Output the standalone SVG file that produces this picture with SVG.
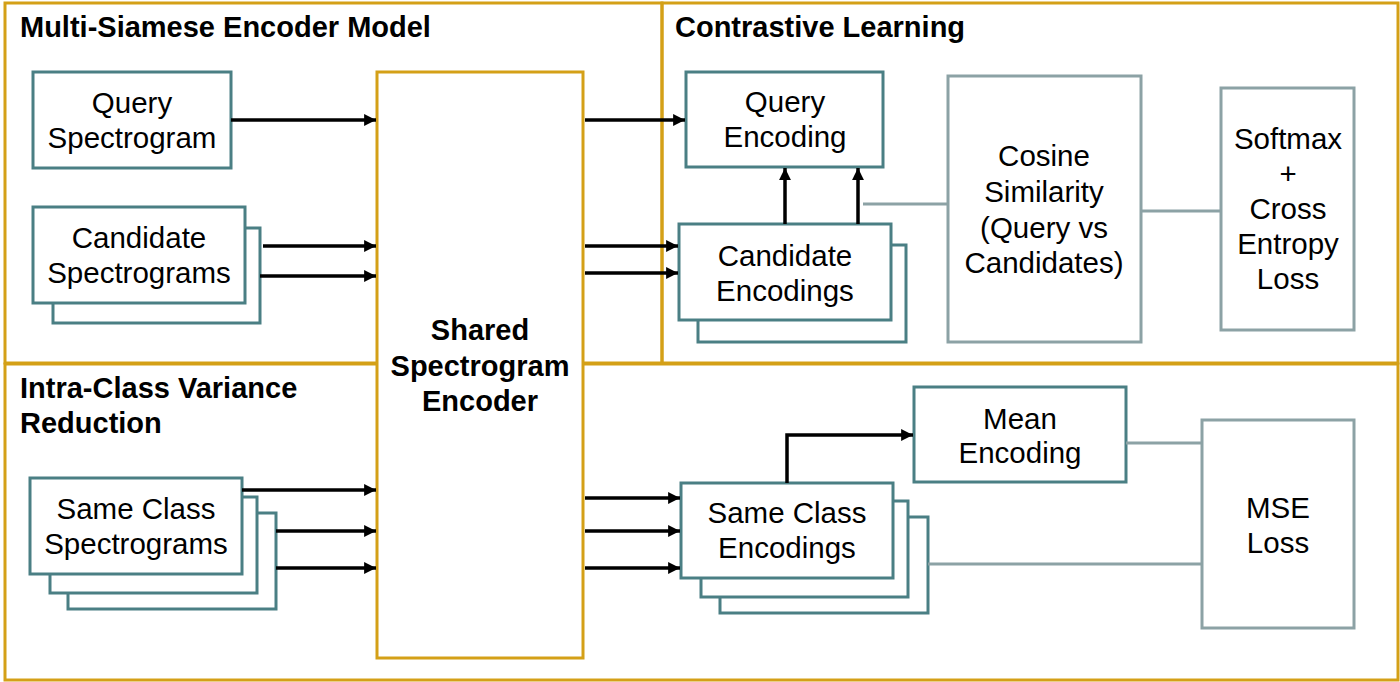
<svg xmlns="http://www.w3.org/2000/svg" width="1400" height="682" viewBox="0 0 1400 682">
<defs>
<marker id="arr" viewBox="0 0 10 10" refX="10" refY="5" markerWidth="3.4" markerHeight="3.4" markerUnits="strokeWidth" orient="auto">
<path d="M0,0 L10,5 L0,10 Z" fill="#000"/>
</marker>
<style>
.frame{fill:none;stroke:#D4A017;stroke-width:3}
.enc{fill:#fff;stroke:#D4A017;stroke-width:3}
.teal{fill:#fff;stroke:#4A7F84;stroke-width:3}
.grey{fill:#fff;stroke:#8CA2A5;stroke-width:3}
.t{font-family:"Liberation Sans",Arial,sans-serif;font-size:29.5px;fill:#000;text-anchor:middle}
.title{font-family:"Liberation Sans",Arial,sans-serif;font-size:29px;font-weight:bold;fill:#000}
.b{font-weight:bold;font-size:29px}
.arrow{fill:none;stroke:#000;stroke-width:3.5;marker-end:url(#arr)}
.gl{fill:none;stroke:#8CA2A5;stroke-width:3}
</style>
</defs>
<rect width="1400" height="682" fill="#fff"/>

<g id="frames">
<rect class="frame" x="5" y="3" width="657" height="360"/>
<rect class="frame" x="662" y="3" width="736" height="360"/>
<rect class="frame" x="5" y="364" width="1393" height="316"/>
<text class="title" x="20" y="37">Multi-Siamese Encoder Model</text>
<text class="title" x="675" y="37">Contrastive Learning</text>
<text class="title" x="20" y="398">Intra-Class Variance</text>
<text class="title" x="20" y="433">Reduction</text>
</g>

<g id="encoder">
<rect class="enc" x="377" y="72" width="206" height="586"/>
<text class="t b" x="480" y="340">Shared</text>
<text class="t b" x="480" y="376">Spectrogram</text>
<text class="t b" x="480" y="411">Encoder</text>
</g>

<g id="query-spectrogram">
<rect class="teal" x="33" y="72" width="198" height="96"/>
<text class="t" x="132" y="113">Query</text>
<text class="t" x="132" y="148">Spectrogram</text>
</g>

<g id="candidate-spectrograms">
<rect class="teal" x="53" y="228" width="207" height="95"/>
<rect class="teal" x="33" y="207" width="212" height="96"/>
<text class="t" x="139" y="248">Candidate</text>
<text class="t" x="139" y="283">Spectrograms</text>
</g>

<g id="same-class-spectrograms">
<rect class="teal" x="68" y="513" width="208" height="96"/>
<rect class="teal" x="50" y="497" width="207" height="96"/>
<rect class="teal" x="30" y="478" width="212" height="96"/>
<text class="t" x="136" y="519">Same Class</text>
<text class="t" x="136" y="554">Spectrograms</text>
</g>

<g id="query-encoding">
<rect class="teal" x="686" y="72" width="197" height="95"/>
<text class="t" x="785" y="112">Query</text>
<text class="t" x="785" y="147">Encoding</text>
</g>

<g id="candidate-encodings">
<rect class="teal" x="698" y="245" width="208" height="97"/>
<rect class="teal" x="679" y="224" width="212" height="96"/>
<text class="t" x="785" y="266">Candidate</text>
<text class="t" x="785" y="301">Encodings</text>
</g>

<g id="cosine-similarity">
<rect class="grey" x="948" y="76" width="193" height="266"/>
<text class="t" x="1044" y="166">Cosine</text>
<text class="t" x="1044" y="202">Similarity</text>
<text class="t" x="1044" y="238">(Query vs</text>
<text class="t" x="1044" y="273">Candidates)</text>
</g>

<g id="softmax-loss">
<rect class="grey" x="1221" y="88" width="133" height="242"/>
<text class="t" x="1288" y="149">Softmax</text>
<text class="t" x="1288" y="184">+</text>
<text class="t" x="1288" y="219">Cross</text>
<text class="t" x="1288" y="254">Entropy</text>
<text class="t" x="1288" y="289">Loss</text>
</g>

<g id="same-class-encodings">
<rect class="teal" x="720" y="517" width="208" height="96"/>
<rect class="teal" x="701" y="501" width="207" height="96"/>
<rect class="teal" x="681" y="483" width="212" height="95"/>
<text class="t" x="787" y="523">Same Class</text>
<text class="t" x="787" y="558">Encodings</text>
</g>

<g id="mean-encoding">
<rect class="teal" x="914" y="387" width="212" height="95"/>
<text class="t" x="1020" y="429">Mean</text>
<text class="t" x="1020" y="463">Encoding</text>
</g>

<g id="mse-loss">
<rect class="grey" x="1202" y="420" width="152" height="208"/>
<text class="t" x="1278" y="518">MSE</text>
<text class="t" x="1278" y="553">Loss</text>
</g>

<g id="connectors">
<line class="arrow" x1="231" y1="120" x2="376" y2="120"/>
<line class="arrow" x1="263" y1="246" x2="376" y2="246"/>
<line class="arrow" x1="260" y1="276" x2="376" y2="276"/>
<line class="arrow" x1="242" y1="490" x2="376" y2="490"/>
<line class="arrow" x1="276" y1="531" x2="376" y2="531"/>
<line class="arrow" x1="276" y1="568" x2="376" y2="568"/>

<line class="arrow" x1="585" y1="120" x2="685" y2="120"/>
<line class="arrow" x1="585" y1="246" x2="678" y2="246"/>
<line class="arrow" x1="585" y1="273" x2="678" y2="273"/>
<line class="arrow" x1="785" y1="224" x2="785" y2="168"/>
<line class="arrow" x1="858" y1="224" x2="858" y2="168"/>

<line class="arrow" x1="585" y1="498" x2="680" y2="498"/>
<line class="arrow" x1="585" y1="531" x2="680" y2="531"/>
<line class="arrow" x1="585" y1="568" x2="680" y2="568"/>
<polyline class="arrow" points="787,483 787,435 913,435"/>

<line class="gl" x1="863" y1="204" x2="947" y2="204"/>
<line class="gl" x1="1141" y1="211" x2="1221" y2="211"/>
<line class="gl" x1="1126" y1="443" x2="1202" y2="443"/>
<line class="gl" x1="928" y1="564" x2="1202" y2="564"/>
</g>
</svg>
